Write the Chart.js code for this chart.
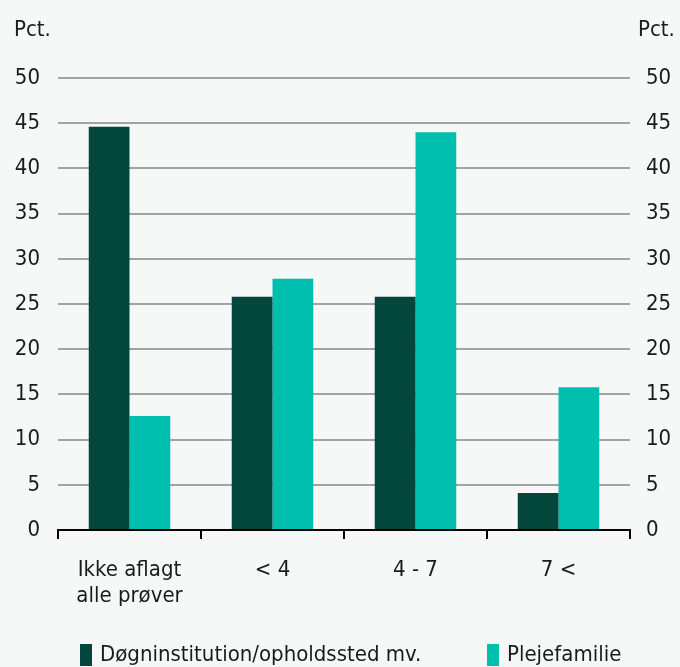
<!DOCTYPE html>
<html>
<head>
<meta charset="utf-8">
<script src="https://cdn.jsdelivr.net/npm/chart.js@4"></script>
<style>
  html, body { margin: 0; padding: 0; background: #f6f8f8; }
  #wrap { width: 680px; height: 667px; }
</style>
</head>
<body>
<div id="wrap"><canvas id="chart" width="680" height="667"></canvas></div>
<script>
// Data
const categories = [["Ikke aflagt", "alle prøver"], "< 4", "4 - 7", "7 <"];
const seriesNames = ["Døgninstitution/opholdssted mv.", "Plejefamilie"];
const seriesColors = ["#02463c", "#00bfae"];
const doegnValues = [44.6, 25.8, 25.8, 4.1];
const plejeValues = [12.6, 27.8, 44.0, 15.8];
const yTicks = [0, 5, 10, 15, 20, 25, 30, 35, 40, 45, 50];
const unitLabel = "Pct.";

const FONT = "'DejaVu Sans Condensed', 'Liberation Sans', Arial, sans-serif";
const FSIZE = 22;
const textColor = "#1b1b1b";

// "Pct." over each y-axis + legend below the chart
const extrasPlugin = {
  id: "extras",
  afterDraw(chart) {
    const ctx = chart.ctx;
    ctx.save();
    ctx.font = FSIZE + "px " + FONT;
    ctx.fillStyle = textColor;
    ctx.textBaseline = "middle";
    ctx.textAlign = "left";
    ctx.fillText(unitLabel, 14, 30);
    ctx.fillText(unitLabel, 638, 30);

    // legend
    const legendX = [80, 487];
    const ly = 655;
    chart.data.datasets.forEach((ds, i) => {
      ctx.fillStyle = ds.backgroundColor;
      ctx.fillRect(legendX[i], ly - 11, 12, 22);
      ctx.fillStyle = textColor;
      ctx.fillText(ds.label, legendX[i] + 20, ly);
    });
    ctx.restore();
  }
};

new Chart(document.getElementById("chart").getContext("2d"), {
  type: "bar",
  data: {
    labels: categories,
    datasets: [
      { label: seriesNames[0], data: doegnValues, backgroundColor: seriesColors[0], yAxisID: "y" },
      { label: seriesNames[1], data: plejeValues, backgroundColor: seriesColors[1], yAxisID: "y" }
    ]
  },
  options: {
    responsive: false,
    animation: false,
    layout: { padding: { top: 78, left: 0, right: 0, bottom: 57 } },
    datasets: { bar: { categoryPercentage: 0.57, barPercentage: 1.0 } },
    plugins: {
      tooltip: { enabled: false },
      legend: { display: false }
    },
    scales: {
      x: {
        offset: true,
        grid: { offset: true, drawOnChartArea: false, color: "#000", lineWidth: 2, tickLength: 9 },
        border: { color: "#000", width: 2 },
        ticks: { font: { family: FONT, size: FSIZE, lineHeight: 1.2 }, color: textColor, padding: 18, maxRotation: 0 },
        afterFit(s) { s.height = 80; }
      },
      y: {
        position: "left",
        min: 0, max: 50,
        afterBuildTicks(s) { s.ticks = yTicks.map(v => ({ value: v })); },
        grid: { color: "#a3a3a3", lineWidth: 2, drawTicks: false },
        border: { display: false },
        ticks: { font: { family: FONT, size: FSIZE }, color: textColor, padding: 18 },
        afterFit(s) { s.width = 58; }
      },
      y2: {
        position: "right",
        min: 0, max: 50,
        afterBuildTicks(s) { s.ticks = yTicks.map(v => ({ value: v })); },
        grid: { display: false, drawTicks: false },
        border: { display: false },
        ticks: { font: { family: FONT, size: FSIZE }, color: textColor, padding: 16 },
        afterFit(s) { s.width = 50; }
      }
    }
  },
  plugins: [extrasPlugin]
});
</script>
</body>
</html>
